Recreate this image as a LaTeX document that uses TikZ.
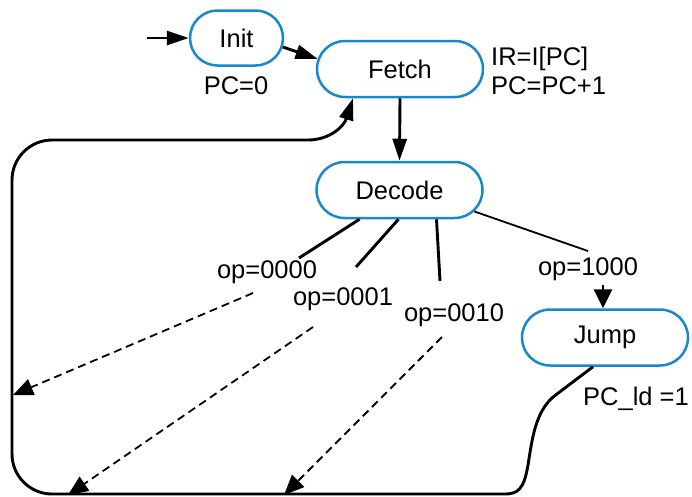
\documentclass[tikz,border=0pt]{standalone}
\usepackage{fontspec}
\setmainfont{Liberation Sans}
\usetikzlibrary{arrows.meta,shapes.misc}
\definecolor{stateblue}{RGB}{24,136,204}
\begin{document}
\begin{tikzpicture}[x=1pt,y=-1pt,
  every node/.style={font=\fontsize{25.5}{29}\selectfont, inner sep=0pt},
  state/.style={draw=stateblue, line width=2.5pt, rounded rectangle,
    minimum width=166pt, minimum height=56pt, fill=white},
  lbl/.style={anchor=base},
  conn/.style={line width=2.9pt, line join=round},
  thinconn/.style={line width=1.8pt},
  solidhead/.style={-{Triangle[length=22pt,width=14pt]}},
  widehead/.style={-{Triangle[length=19pt,width=18pt]}},
  dashconn/.style={line width=1.8pt, dash pattern=on 8pt off 5pt,
    -{Triangle[length=20pt,width=17pt]}},
]
\useasboundingbox (0,0) rectangle (692,496);

% states
\node[state, minimum width=93pt, minimum height=55pt] (init) at (236.5,38) {Init};
\node[state] (fetch) at (400,69) {Fetch};
\node[state] (decode) at (399.5,190) {Decode};
\node[state] (jump) at (605,337.5) {Jump};

% state actions and branch conditions
\node[lbl] (pc0) at (236,94) {PC=0};
\node[lbl, anchor=base west] (ir) at (491,65) {IR=I[PC]};
\node[lbl, anchor=base west] (pcinc) at (491,94) {PC=PC+1};
\node[lbl] (op0) at (267,278) {op=0000};
\node[lbl] (op1) at (343,305) {op=0001};
\node[lbl] (op2) at (454,321) {op=0010};
\node[lbl] (op8) at (588,275) {op=1000};
\node[lbl, anchor=base west] (pcld) at (583,405) {PC\_ld =1};

% free ends
\coordinate (entry) at (147,38);
\coordinate (b0) at (299,258);
\coordinate (b1) at (356,267);
\coordinate (b2) at (440,281);
\coordinate (b8) at (588,251);
\coordinate (j8) at (603,285);
\coordinate (d0s) at (253,293);
\coordinate (d0e) at (13,395);
\coordinate (d1s) at (313,327);
\coordinate (d1e) at (68,495);
\coordinate (d2s) at (442,337);
\coordinate (d2e) at (284,495);

% reset entry and main sequence
\draw[conn, solidhead] (entry) -- (init.west);
\draw[conn, solidhead] (init.-11) -- (fetch.173);
\draw[conn, solidhead] (fetch.south) -- (decode.north);

% decode branches
\draw[conn] ([xshift=-40pt]decode.south) -- (b0);
\draw[conn] ([xshift=-1pt]decode.south) -- (b1);
\draw[conn] ([xshift=37pt]decode.south) -- (b2);
\draw[thinconn] (decode.-16) -- (b8);
\draw[conn, widehead] (j8) -- ([xshift=-2pt]jump.north);

% dashed returns to the loop
\draw[dashconn] (d0s) -- (d0e);
\draw[dashconn] (d1s) -- (d1e);
\draw[dashconn] (d2s) -- (d2e);

% loop back from jump to fetch
\draw[conn, solidhead] ([xshift=-12pt]jump.south) -- (553,397)
  .. controls (535,413) and (532,440) .. (528,465)
  .. controls (524,489) and (518,494) .. (505,494)
  -- (52,494) .. controls (30,494) and (12,476) .. (12,454)
  -- (12,180) .. controls (12,158) and (30,140) .. (52,140)
  -- (308,140) .. controls (330,140) and (344,126) .. ([xshift=-47pt]fetch.south);
\end{tikzpicture}
\end{document}
